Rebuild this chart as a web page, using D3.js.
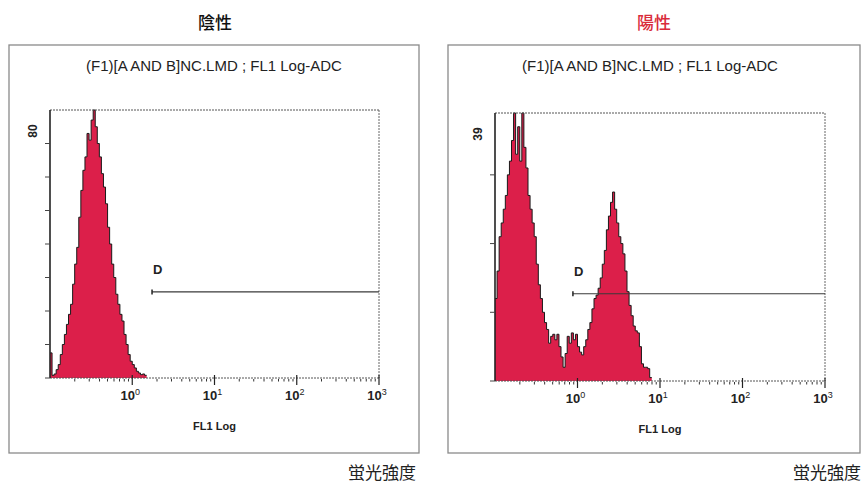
<!DOCTYPE html>
<html><head><meta charset="utf-8">
<script src="https://cdn.jsdelivr.net/npm/d3@7"></script>
<style>
html,body{margin:0;padding:0;background:#fff;}
svg{display:block;}
</style></head>
<body>
<svg id="c" width="862" height="485"></svg>
<script>
// ---- data ----
const panelTitles = ["陰性", "陽性"];
const subTitle = "(F1)[A AND B]NC.LMD ; FL1 Log-ADC";
const xAxisTitle = "FL1 Log";
const footLabel = "蛍光強度";
const gateLabel = "D";
const decadeTicks = [1, 10, 100, 1000];
const decadeExponents = ["0", "1", "2", "3"];
const xDomain = [0.1, 1000];
const channelsPerDecade = 40;           // histogram channel resolution (log bins)
const yMaxNeg = 80, yMaxPos = 39;
const yTicksNeg = [0, 10, 20, 30, 40, 50, 60, 70];
const yTicksPos = [0, 10, 20, 30];
// counts per log channel, starting at FL1 = 0.1
const countsNeg = [7.5,0.8,1.2,2.5,4,7,10,13,16,19,22,28,34,39,48,56,62,66,73,71,77,80,75,70,66,61,57,52,45,40,34,30,25,22,19,17,13,10,7,5,4,3,2,1.5,1,1.2,0.8];
const countsPos = [12,16,21,23,25,27,30,32,35,39,33,37,32,39,34,31,27,25,23,21,17,14,12,10,8.5,7.5,5.5,6.5,6.8,6,6.8,5,3.5,2,4,6.5,5.5,7,6,6.8,5,4.2,3.8,5,6,7.5,8.5,10.5,12,12.5,13.5,15,17,19,22,24,26,27.5,25,23,21,20,18.5,16,13,11,9.5,8,7.3,7,5,2.5,2,2,1.8,0.5];
// gate D: [start FL1, level count]
const gateNeg = [1.74, 25.7];
const gatePos = [0.88, 12.7];

// ---- layout ----
const panels = [
  {title: panelTitles[0], titleColor: "#111", counts: countsNeg, yMax: yMaxNeg, yTicks: yTicksNeg, gate: gateNeg,
   box: [9, 45, 419, 453], plot: [50, 110, 379, 378], titleX: 215, subX: 214, footX: 348},
  {title: panelTitles[1], titleColor: "#d92b3a", counts: countsPos, yMax: yMaxPos, yTicks: yTicksPos, gate: gatePos,
   box: [448, 45, 860, 453], plot: [495, 113, 825, 381], titleX: 654, subX: 650, footX: 793}
];

const svg = d3.select("#c");
const sansN = "'Liberation Sans Narrow','Liberation Sans',Arial,sans-serif";
const sans = "'Liberation Sans',Arial,sans-serif";
const cjk = "'Noto Sans CJK JP','Noto Sans CJK SC',sans-serif";

function chan(i){ return xDomain[0] * Math.pow(10, i / channelsPerDecade); }

panels.forEach(p => {
  const g = svg.append("g");
  const [bx0, by0, bx1, by1] = p.box;
  const [px0, py0, px1, py1] = p.plot;

  g.append("text").attr("x", p.titleX).attr("y", 29).attr("text-anchor", "middle")
    .attr("font-family", cjk).attr("font-size", 17).attr("font-weight", 500)
    .attr("fill", p.titleColor).text(p.title);

  g.append("rect").attr("x", bx0).attr("y", by0).attr("width", bx1 - bx0).attr("height", by1 - by0)
    .attr("fill", "none").attr("stroke", "#8a8a8a").attr("stroke-width", 1.3);

  g.append("text").attr("x", p.subX).attr("y", 71).attr("text-anchor", "middle")
    .attr("font-family", sans).attr("font-size", 15).attr("fill", "#222").text(subTitle);

  const x = d3.scaleLog().domain(xDomain).range([px0, px1]);
  const y = d3.scaleLinear().domain([0, p.yMax]).range([py1, py0]);

  // histogram
  const pts = p.counts.map((c, i) => [chan(i), c]);
  pts.push([chan(p.counts.length), p.counts[p.counts.length - 1]]);
  const area = d3.area().curve(d3.curveStepAfter).x(d => x(d[0])).y0(y(0)).y1(d => y(d[1]));
  const line = d3.line().curve(d3.curveStepAfter).x(d => x(d[0])).y(d => y(d[1]));
  g.append("path").datum(pts).attr("d", area).attr("fill", "#dc1f4a");
  g.append("path").datum(pts).attr("d", line).attr("fill", "none").attr("stroke", "#1a1a1a").attr("stroke-width", 1);

  // frame: dashed top & right, dashed bottom
  g.append("line").attr("x1", px0).attr("x2", px1).attr("y1", py0).attr("y2", py0)
    .attr("stroke", "#555").attr("stroke-width", 1).attr("stroke-dasharray", "2,1");
  g.append("line").attr("x1", px1).attr("x2", px1).attr("y1", py0).attr("y2", py1)
    .attr("stroke", "#666").attr("stroke-width", 1).attr("stroke-dasharray", "2,1");
  g.append("line").attr("x1", px0).attr("x2", px1).attr("y1", py1).attr("y2", py1)
    .attr("stroke", "#555").attr("stroke-width", 1).attr("stroke-dasharray", "2,1");

  // x axis ticks
  const minor = [];
  for (let d = 0.1; d < 1000; d *= 10) for (let k = 2; k <= 9; k++) minor.push(d * k);
  g.selectAll(".mt").data(minor).join("line")
    .attr("x1", d => x(d)).attr("x2", d => x(d)).attr("y1", py1 + 1).attr("y2", py1 + 3.5)
    .attr("stroke", "#333").attr("stroke-width", 1);
  g.selectAll(".Mt").data(decadeTicks).join("line")
    .attr("x1", d => x(d)).attr("x2", d => x(d)).attr("y1", py1 - 3).attr("y2", py1 + 7)
    .attr("stroke", "#222").attr("stroke-width", 1.2);
  const tl = g.selectAll(".tl").data(decadeTicks).join("text")
    .attr("x", d => x(d) - 2).attr("y", py1 + 22).attr("text-anchor", "middle")
    .attr("font-family", sansN).attr("font-weight", "bold").attr("font-size", 13).attr("fill", "#222");
  tl.append("tspan").text("10");
  tl.append("tspan").attr("dy", -5).attr("font-size", 9).attr("font-weight", "normal").text((d, i) => decadeExponents[i]);

  g.append("text").attr("x", (px0 + px1) / 2).attr("y", py1 + 52).attr("text-anchor", "middle")
    .attr("font-family", sansN).attr("font-weight", "bold").attr("font-size", 11).attr("fill", "#222").text(xAxisTitle);

  // y axis
  g.append("line").attr("x1", px0).attr("x2", px0).attr("y1", py0).attr("y2", py1)
    .attr("stroke", "#222").attr("stroke-width", 1.6);
  g.selectAll(".yt").data(p.yTicks).join("line")
    .attr("x1", px0 - 5).attr("x2", px0).attr("y1", d => y(d)).attr("y2", d => y(d))
    .attr("stroke", "#444").attr("stroke-width", 1);
  g.append("text").attr("transform", `translate(${px0 - 13},${y(p.yMax) + 21}) rotate(-90)`)
    .attr("text-anchor", "middle").attr("font-family", sansN).attr("font-weight", "bold")
    .attr("font-size", 12).attr("fill", "#222").text(p.yMax);

  // gate D
  const gx = x(p.gate[0]), gy = y(p.gate[1]);
  g.append("line").attr("x1", gx).attr("x2", px1).attr("y1", gy).attr("y2", gy)
    .attr("stroke", "#3a3a3a").attr("stroke-width", 1.2);
  g.append("line").attr("x1", gx).attr("x2", gx).attr("y1", gy - 2.5).attr("y2", gy + 2.5)
    .attr("stroke", "#222").attr("stroke-width", 1.5);
  g.append("text").attr("x", gx + 1).attr("y", gy - 18).attr("font-family", sans)
    .attr("font-weight", "bold").attr("font-size", 13).attr("fill", "#222").text(gateLabel);

  // foot label
  g.append("text").attr("x", p.footX).attr("y", 479).attr("font-family", cjk)
    .attr("font-size", 17).attr("fill", "#222").text(footLabel);
});
</script>
</body></html>
